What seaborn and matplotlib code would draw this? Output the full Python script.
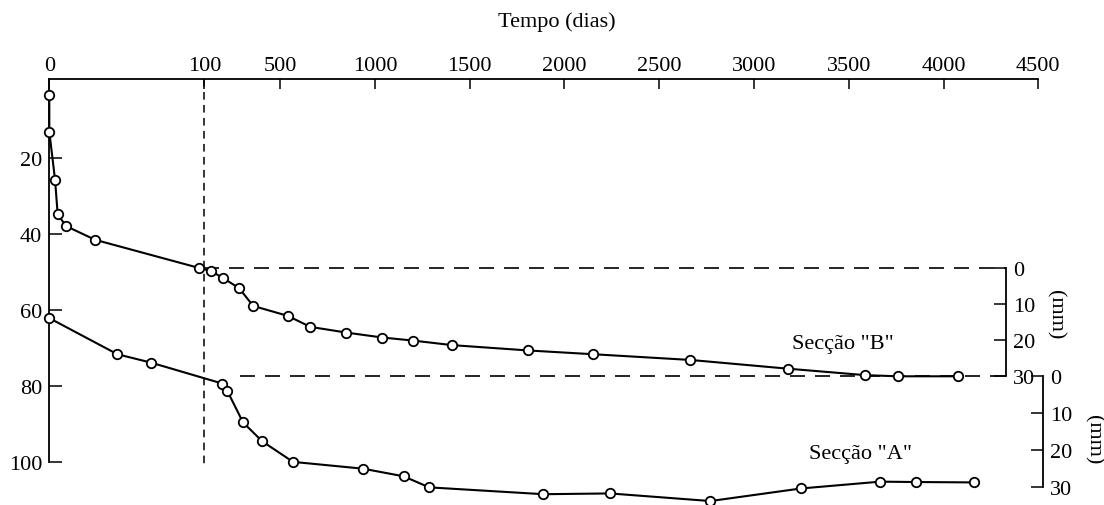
import numpy as np
import matplotlib
matplotlib.use("Agg")
import matplotlib.pyplot as plt
import seaborn as sns

# ---------------- data ----------------
time_ticks = [0, 100, 500, 1000, 1500, 2000, 2500, 3000, 3500, 4000, 4500]
time_tick_labels = ["0", "100", "500", "1000", "1500", "2000", "2500",
                    "3000", "3500", "4000", "4500"]
left_ticks = [20, 40, 60, 80, 100]
mm_ticks = [0, 10, 20, 30]

# Secção "B" (time in days, value on the left-hand scale)
b_days = [0, 0, 3.7, 5.4, 10.8, 29.5, 96.5, 135, 200, 283, 358, 540, 659,
          849, 1039, 1201, 1407, 1807, 2153, 2665, 3180, 3588, 3762, 4074]
b_vals = [3.4, 13.1, 25.7, 34.8, 37.9, 41.5, 48.9, 49.7, 51.6, 54.2, 58.9,
          61.5, 64.4, 65.9, 67.2, 68.0, 69.2, 70.6, 71.6, 73.1, 75.4, 77.1,
          77.4, 77.4]

# Secção "A"
a_days = [0, 43.9, 65.6, 194.5, 220.8, 304, 405.5, 568, 939, 1152, 1286,
          1889, 2241, 2770, 3247, 3666, 3854, 4163]
a_vals = [62.1, 71.6, 73.8, 79.3, 81.2, 89.5, 94.5, 99.9, 101.7, 103.7,
          106.6, 108.4, 108.2, 110.2, 106.9, 105.1, 105.2, 105.3]

# reference levels of the two settlement (mm) scales on the left scale
B_ZERO, B_THIRTY = 48.9, 77.4
A_ZERO, A_THIRTY = 77.4, 106.5
DAY_BREAK = 100          # first 100 days drawn on an expanded scale

# ---------------- layout / style constants ----------------
R = 0.12226              # compression of the time scale after day 100
Y_TOP, Y_BOT = -0.8, 111.0
X_MAX = 4500
B_AXIS_DAY = 4331
A_AXIS_DAY = 4526
LOWER_DASH_START = 288

sns.set_theme(style="white")
plt.rcParams["font.family"] = ["Liberation Serif", "DejaVu Serif"]
plt.rcParams["axes.linewidth"] = 1.3
plt.rcParams["text.color"] = "black"
plt.rcParams["axes.labelcolor"] = "black"


def fwd(d):
    d = np.asarray(d, dtype=float)
    return np.where(d <= DAY_BREAK, d, DAY_BREAK + (d - DAY_BREAK) * R)


def inv(t):
    t = np.asarray(t, dtype=float)
    return np.where(t <= DAY_BREAK, t, DAY_BREAK + (t - DAY_BREAK) / R)


fig = plt.figure(figsize=(11.04, 5.06), dpi=100)
ax = fig.add_axes([0.04466, 0.0018, 0.8958, 0.8403])

line_kw = dict(color="black", lw=1.5, marker="o", markersize=6.8,
               markerfacecolor="white", markeredgecolor="black",
               markeredgewidth=1.3, estimator=None, sort=False,
               legend=False, clip_on=False)
sns.lineplot(x=b_days, y=b_vals, ax=ax, zorder=3, **line_kw)
sns.lineplot(x=a_days, y=a_vals, ax=ax, zorder=3, **line_kw)

ax.set_xscale("function", functions=(fwd, inv))
ax.set_xlim(0, X_MAX)
ax.set_ylim(Y_BOT, Y_TOP)

# dashed reference lines
ax.vlines(DAY_BREAK, Y_TOP, 101.2, colors="black", lw=1.1,
          linestyles=(0, (5, 3.5)), zorder=1)
ax.hlines(B_ZERO, DAY_BREAK, B_AXIS_DAY, colors="black", lw=1.2,
          linestyles=(0, (9, 6)), zorder=1)
ax.hlines(B_THIRTY, LOWER_DASH_START, B_AXIS_DAY, colors="black", lw=1.2,
          linestyles=(0, (9, 6)), zorder=1)

# main axes: time on top, left scale
for s in ("right", "bottom"):
    ax.spines[s].set_visible(False)
for s in ("top", "left"):
    ax.spines[s].set_color("black")
ax.spines["left"].set_bounds(Y_TOP, 100)
ax.xaxis.tick_top()
ax.xaxis.set_label_position("top")
ax.set_xticks(time_ticks)
ax.set_xticklabels(time_tick_labels)
ax.set_yticks(left_ticks)
ax.tick_params(axis="x", direction="in", length=7, width=1.1, pad=3,
               labelsize=16, top=True, bottom=False, colors="black")
ax.tick_params(axis="y", direction="in", length=9, width=1.1, pad=5,
               labelsize=16, left=True, right=False, colors="black")
ax.minorticks_off()
ax.set_xlabel("Tempo (dias)", fontsize=16, ha="center", va="center",
              color="black")
ax.xaxis.set_label_coords(0.513, 1.136)

ax.text(3470, 68.9, 'Secção "B"', ha="center", va="center", fontsize=16,
        color="black")
ax.text(3560, 97.8, 'Secção "A"', ha="center", va="center", fontsize=16,
        color="black")


def mm_axis(zero, thirty, day, label_xy):
    scale = (thirty - zero) / 30.0
    tw = ax.twinx()
    tw.set_ylim((Y_BOT - zero) / scale, (Y_TOP - zero) / scale)
    for s in ("left", "top", "bottom"):
        tw.spines[s].set_visible(False)
    frac = float(fwd(day) / fwd(X_MAX))
    tw.spines["right"].set_position(("axes", frac))
    tw.spines["right"].set_bounds(0, 30)
    tw.spines["right"].set_color("black")
    tw.set_yticks(mm_ticks)
    tw.tick_params(axis="y", direction="in", length=9, width=1.1, pad=5,
                   labelsize=16, right=True, left=False, colors="black")
    tw.minorticks_off()
    tw.set_ylabel("(mm)", rotation=270, fontsize=16, ha="center",
                  va="center", color="black")
    tw.yaxis.set_label_coords(*label_xy)
    tw.grid(False)
    return tw


mm_axis(B_ZERO, B_THIRTY, B_AXIS_DAY, (1.0175, 0.447))
mm_axis(A_ZERO, A_THIRTY, A_AXIS_DAY, (1.055, 0.153))

ax.grid(False)
fig.savefig("out.png", dpi=100)
